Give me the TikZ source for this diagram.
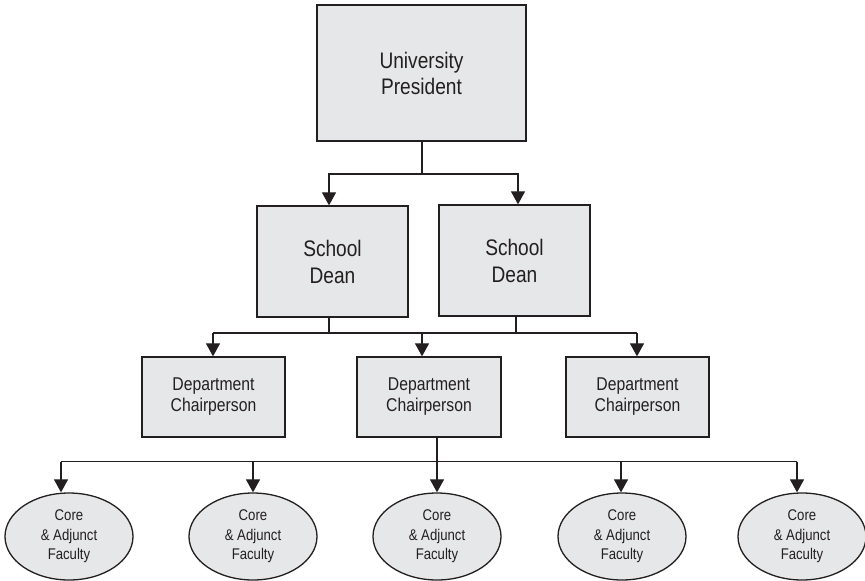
\documentclass[tikz,border=0pt]{standalone}
\usepackage{fontspec}
\setmainfont[FakeStretch=0.85]{Liberation Sans}
\usetikzlibrary{arrows.meta,calc,shapes.geometric}
\definecolor{boxfill}{HTML}{E6E7E8}
\definecolor{ink}{HTML}{231F20}
\begin{document}
\begin{tikzpicture}[x=1pt,y=-1pt,
  box/.style={draw=ink,fill=boxfill,line width=1.3pt,inner sep=0pt,align=center,text=ink},
  presbox/.style={box,minimum width=209pt,minimum height=136pt,font=\fontsize{22.5}{26}\selectfont},
  deanbox/.style={box,minimum width=151pt,minimum height=111pt,font=\fontsize{22.5}{27}\selectfont},
  chairbox/.style={box,minimum width=143pt,minimum height=80pt,font=\fontsize{18.5}{21}\selectfont},
  facell/.style={box,ellipse,minimum width=128pt,minimum height=87pt,font=\fontsize{15.5}{19.5}\selectfont},
  link/.style={draw=ink,line width=1.2pt},
  arr/.style={link,-{Triangle[width=14pt,length=13pt]}}]
\useasboundingbox (0,0) rectangle (865,581);

% nodes
\node[presbox] (pres) at (421.5,73) {University\\President};
\node[deanbox] (deanL) at (332.5,261.5) {School\\Dean};
\node[deanbox] (deanR) at (514.5,260.5) {School\\Dean};
\node[chairbox] (chL) at (213.5,397) {Department\\Chairperson};
\node[chairbox,minimum width=144pt] (chM) at (429,397) {Department\\Chairperson};
\node[chairbox] (chR) at (637.5,397) {Department\\Chairperson};
\node[facell] (f1) at (69,536.5) {Core\\\& Adjunct\\Faculty};
\node[facell] (f2) at (253,536.5) {Core\\\& Adjunct\\Faculty};
\node[facell] (f3) at (437,536.5) {Core\\\& Adjunct\\Faculty};
\node[facell] (f4) at (622,536.5) {Core\\\& Adjunct\\Faculty};
\node[facell] (f5) at (802,536.5) {Core\\\& Adjunct\\Faculty};

% president -> deans
\coordinate (j1) at (422,174);
\draw[link] ([xshift=0.5pt]pres.south) -- (j1);
\draw[arr] (j1) -| ([xshift=-3.5pt]deanL.north);
\draw[arr] (j1) -| ([xshift=3.5pt]deanR.north);

% deans -> chairs
\coordinate (barL) at (213,333);
\coordinate (barR) at (637,333);
\draw[link] (barL) -- (barR);
\draw[link] ([xshift=-3.5pt]deanL.south) -- ([xshift=-3.5pt]deanL.south |- barL);
\draw[link] ([xshift=1.5pt]deanR.south) -- ([xshift=1.5pt]deanR.south |- barL);
\draw[arr] (barL) -- ([xshift=-0.5pt]chL.north);
\draw[arr] ([xshift=-7pt]chM.north |- barL) -- ([xshift=-7pt]chM.north);
\draw[arr] (barR) -- ([xshift=-0.5pt]chR.north);

% chair -> faculty
\coordinate (fbL) at (61,461.5);
\coordinate (fbR) at (797,461.5);
\draw[link] (fbL) -- (fbR);
\draw[link] ([xshift=8pt]chM.south) -- ([xshift=8pt]chM.south |- fbL);
\draw[arr] (fbL) -- ([xshift=-8pt]f1.north);
\draw[arr] (f2.north |- fbL) -- (f2.north);
\draw[arr] (f3.north |- fbL) -- (f3.north);
\draw[arr] ([xshift=-1pt]f4.north |- fbL) -- ([xshift=-1pt]f4.north);
\draw[arr] (fbR) -- ([xshift=-5pt]f5.north);
\end{tikzpicture}
\end{document}
